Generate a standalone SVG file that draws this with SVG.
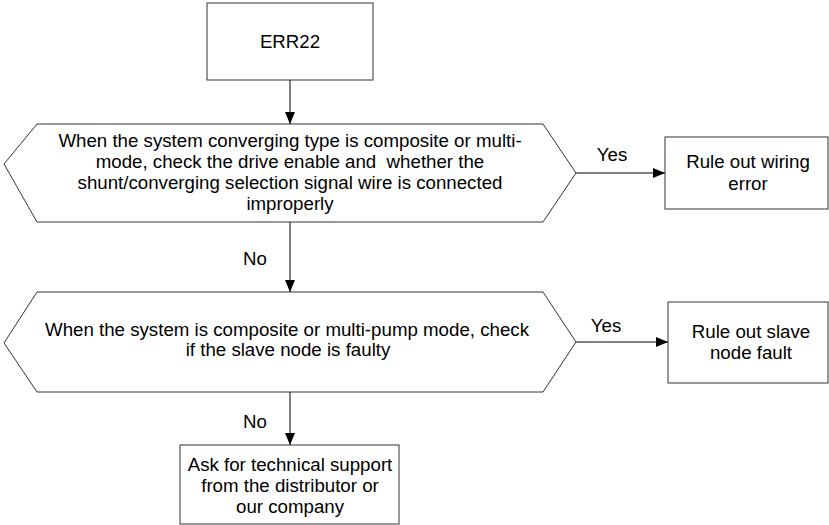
<svg xmlns="http://www.w3.org/2000/svg" width="829" height="525" viewBox="0 0 829 525">
<style>
.shape{fill:#fff;stroke:#333;stroke-width:1}
.t{font-family:"Liberation Sans",Arial,sans-serif;font-size:18.7px;fill:#000;text-anchor:middle}
.c{stroke:#000;stroke-width:1;fill:none}
</style>
<defs>
<marker id="ah" markerUnits="userSpaceOnUse" markerWidth="12" markerHeight="12" viewBox="0 0 12 12" refX="12" refY="6" orient="auto">
<path d="M0,1 L12,6 L0,11 z" fill="#000"/>
</marker>
</defs>
<rect width="829" height="525" fill="#fff"/>
<g id="connectors">
<line class="c" x1="290" y1="80" x2="290" y2="124" marker-end="url(#ah)"/>
<line class="c" x1="576" y1="173" x2="665" y2="173" marker-end="url(#ah)"/>
<line class="c" x1="290" y1="222" x2="290" y2="292" marker-end="url(#ah)"/>
<line class="c" x1="576" y1="342" x2="668" y2="342" marker-end="url(#ah)"/>
<line class="c" x1="290" y1="392" x2="290" y2="445" marker-end="url(#ah)"/>
<text class="t" x="612" y="161">Yes</text>
<text class="t" x="255" y="265">No</text>
<text class="t" x="606" y="332">Yes</text>
<text class="t" x="255" y="428">No</text>
</g>
<g id="start">
<rect class="shape" x="207" y="3" width="166" height="77"/>
<text class="t" x="290" y="48">ERR22</text>
</g>
<g id="check1">
<polygon class="shape" points="37,124 543,124 576,173 543,222 37,222 4,164"/>
<text class="t" x="290" y="147">When the system converging type is composite or multi-</text>
<text class="t" x="290" y="168">mode, check the drive enable and &#160;whether the</text>
<text class="t" x="290" y="189">shunt/converging selection signal wire is connected</text>
<text class="t" x="290" y="210">improperly</text>
</g>
<g id="result1">
<rect class="shape" x="665" y="137" width="163" height="72"/>
<text class="t" x="748" y="168">Rule out wiring</text>
<text class="t" x="748" y="190">error</text>
</g>
<g id="check2">
<polygon class="shape" points="37,292 543,292 576,342 543,392 37,392 4,343"/>
<text class="t" x="287" y="336">When the system is composite or multi-pump mode, check</text>
<text class="t" x="288" y="356">if the slave node is faulty</text>
</g>
<g id="result2">
<rect class="shape" x="668" y="302" width="160" height="81"/>
<text class="t" x="751" y="338">Rule out slave</text>
<text class="t" x="751" y="359">node fault</text>
</g>
<g id="support">
<rect class="shape" x="180" y="445" width="219" height="79"/>
<text class="t" x="290" y="471">Ask for technical support</text>
<text class="t" x="290" y="492">from the distributor or</text>
<text class="t" x="290" y="513">our company</text>
</g>
</svg>
